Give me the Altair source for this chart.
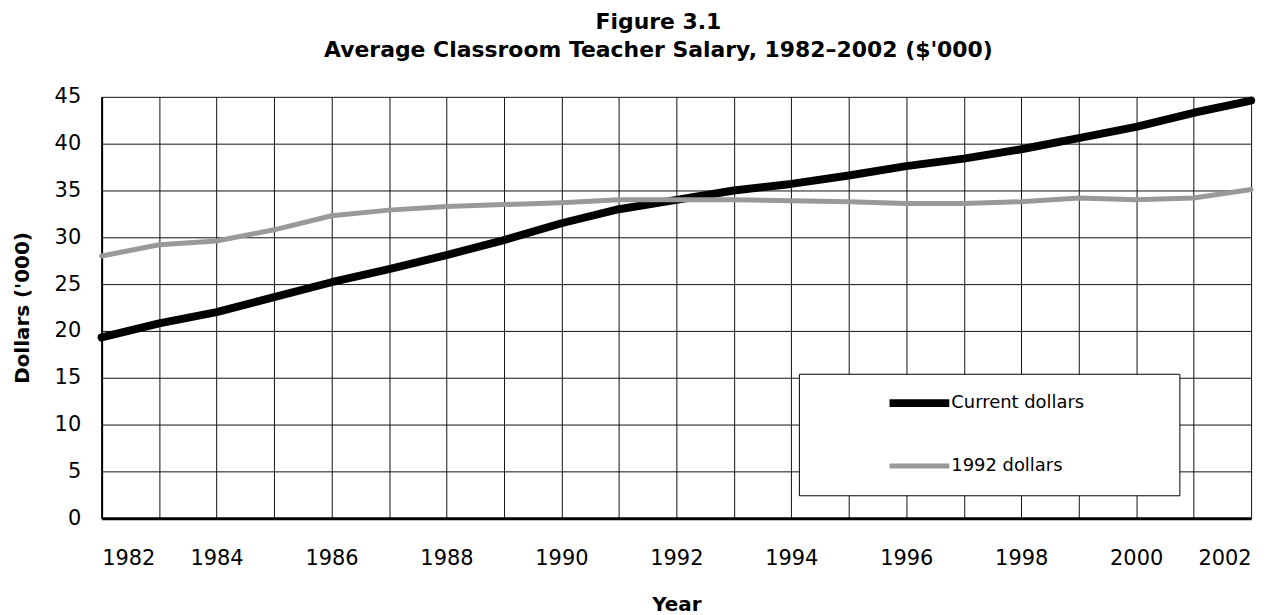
import altair as alt
import pandas as pd

years = list(range(1982, 2003))
current_dollars = [19.3, 20.8, 22.0, 23.6, 25.2, 26.6, 28.1, 29.7, 31.5, 33.0, 34.0,
                   35.0, 35.7, 36.6, 37.6, 38.4, 39.4, 40.6, 41.8, 43.3, 44.6]
dollars_1992 = [28.0, 29.2, 29.6, 30.8, 32.3, 32.9, 33.3, 33.5, 33.7, 34.0, 34.0,
                34.0, 33.9, 33.8, 33.6, 33.6, 33.8, 34.2, 34.0, 34.2, 35.1]
series_names = ["Current dollars", "1992 dollars"]
y_ticks = list(range(0, 46, 5))

rows = []
for name, vals in zip(series_names, [current_dollars, dollars_1992]):
    for yr, v in zip(years, vals):
        rows.append({"Year": yr, "Value": v, "Series": name})
df = pd.DataFrame(rows)

FONT = "DejaVu Sans"
# pad legend labels on the right (non-breaking spaces kept by a zero-width end char)
PAD_EXPR = "datum.label + '" + "\u00a0" * 15 + "\u200b'"

chart = alt.Chart(df).mark_line(strokeCap="round", strokeJoin="round").encode(
    x=alt.X("Year:Q",
            scale=alt.Scale(domain=[1982, 2002], nice=False, zero=False),
            axis=alt.Axis(values=years, format="d",
                          labelExpr="datum.value % 2 == 0 ? datum.label : ''",
                          title="Year", ticks=False, labelPadding=29,
                          titlePadding=27, domainWidth=3, domainColor="#000")),
    y=alt.Y("Value:Q",
            scale=alt.Scale(domain=[0, 45], nice=False),
            axis=alt.Axis(values=y_ticks, title="Dollars ('000)", ticks=False,
                          labelPadding=21, titlePadding=22, domainWidth=2,
                          domainColor="#000")),
    color=alt.Color("Series:N",
                    scale=alt.Scale(domain=series_names, range=["#000000", "#999999"]),
                    legend=alt.Legend(title=None, labelExpr=PAD_EXPR)),
    strokeWidth=alt.StrokeWidth("Series:N",
                                scale=alt.Scale(domain=series_names, range=[8, 5]),
                                legend=alt.Legend(title=None, labelExpr=PAD_EXPR)),
).properties(
    width=1154,
    height=423,
    autosize=alt.AutoSizeParams(type="none"),
    padding={"left": 94, "top": 88, "right": 28, "bottom": 96},
    title=alt.TitleParams(
        text=["Figure 3.1", "Average Classroom Teacher Salary, 1982\u20132002 ($'000)"],
        font=FONT, fontSize=22, fontWeight="bold", lineHeight=28,
        anchor="middle", dx=-18, offset=24, color="#000"),
).configure_view(
    stroke=None
).configure_axis(
    grid=True, gridColor="#111111", gridWidth=1,
    labelFont=FONT, labelFontSize=21, labelColor="#000",
    titleFont=FONT, titleFontSize=20, titleFontWeight="bold", titleColor="#000",
).configure_legend(
    orient="none", legendX=700, legendY=278,
    fillColor="#ffffff", strokeColor="#000000", padding=9.5,
    symbolType="stroke", symbolSize=3600, symbolOffset=77.5,
    clipHeight=40, rowPadding=23,
    labelFont=FONT, labelFontSize=18, labelColor="#000",
    labelOffset={"expr": "-2"},
    labelLimit=400,
)

chart.save("out.html", embed_options={"renderer": "svg", "actions": False})
